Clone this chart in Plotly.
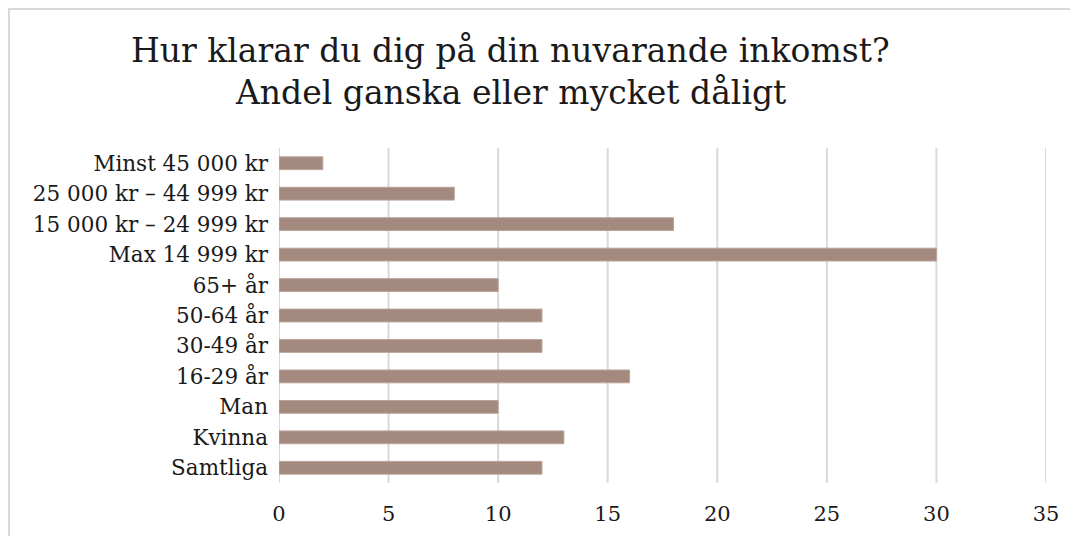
import plotly.graph_objects as go

categories = ["Minst 45 000 kr", "25 000 kr – 44 999 kr", "15 000 kr – 24 999 kr",
              "Max 14 999 kr", "65+ år", "50-64 år", "30-49 år", "16-29 år",
              "Man", "Kvinna", "Samtliga"]
values = [2, 8, 18, 30, 10, 12, 12, 16, 10, 13, 12]
x_ticks = [0, 5, 10, 15, 20, 25, 30, 35]
title_lines = ["Hur klarar du dig på din nuvarande inkomst?", "Andel ganska eller mycket dåligt"]

OFF = 8  # page body margin
W, H = 1078 - OFF, 536 - OFF
L, R, T, B = 279 - OFF, 32, 148 - OFF, 53
FONT = "DejaVu Serif"
GRID = "#d9d9d9"

fig = go.Figure(go.Bar(
    y=categories, x=values, orientation="h",
    marker=dict(color="#a3897e", line=dict(color="#b9a39a", width=1)),
    width=0.42,
))

pw, ph = W - L - R, H - T - B
fig.update_layout(
    width=W, height=H,
    margin=dict(l=L, r=R, t=T, b=B, autoexpand=False),
    paper_bgcolor="white", plot_bgcolor="white",
    showlegend=False,
    font=dict(family=FONT, size=21.5, color="#1a1a1a"),
)
for txt, ypx in zip(title_lines, [50, 92]):
    fig.add_annotation(text=txt, xref="paper", yref="paper",
                       x=(510 - OFF - L) / pw, y=(H - B - (ypx - OFF)) / ph,
                       xanchor="center", yanchor="middle", showarrow=False,
                       font=dict(family=FONT, size=33, color="#1a1a1a"))

fig.update_xaxes(range=[0, 35], tickvals=x_ticks, showgrid=False,
                 zeroline=False, showline=False, ticks="", automargin=False,
                 ticklabelstandoff=16, tickfont=dict(size=21))
fig.update_yaxes(categoryorder="array", categoryarray=categories[::-1],
                 range=[-0.5, 10.5], showgrid=False, zeroline=False, showline=False,
                 ticks="", automargin=False, ticklabelstandoff=10,
                 tickfont=dict(size=21.5))

# vertical gridlines at the tick values (including the range edges)
for v in x_ticks:
    fig.add_shape(type="line", xref="x", yref="paper", x0=v, x1=v, y0=0, y1=1,
                  line=dict(color=GRID, width=2), layer="below")

# outer chart frame (only top and left edges visible in the crop)
fig.add_shape(type="rect", xref="paper", yref="paper",
              x0=(1 - L) / pw, x1=2.0, y0=-1.0, y1=(H - B - 1) / ph,
              line=dict(color=GRID, width=2), layer="below")

fig.write_html("out.html")
